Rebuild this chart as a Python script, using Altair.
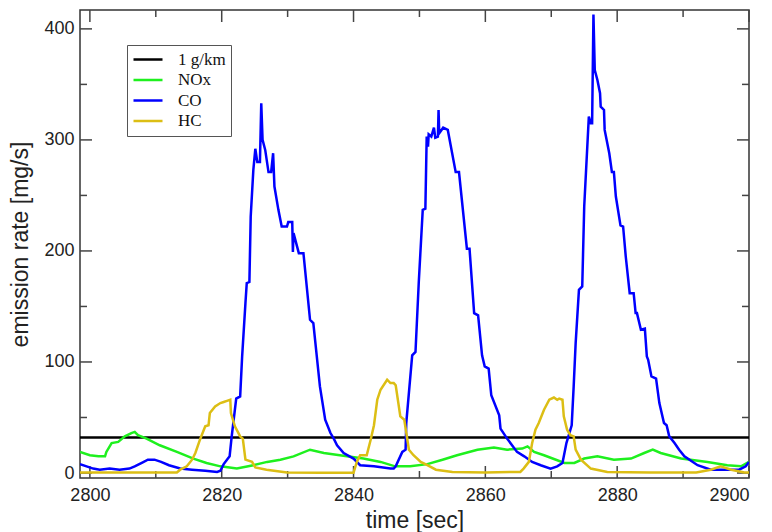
import altair as alt
import pandas as pd

# ---- measured emission rates [mg/s] ----
co_time = [2798.5, 2799.5, 2800.5, 2801.5, 2803, 2804.5, 2806, 2806.8, 2807.8, 2808.8,
           2809.8, 2810.8, 2812, 2813.7, 2815.5, 2817.5, 2819.3, 2819.8, 2820.3, 2820.8,
           2821.2, 2821.5, 2822.2, 2822.8, 2823.1, 2823.6, 2823.8, 2824.2, 2824.4, 2824.8,
           2825.1, 2825.4, 2825.8, 2826.0, 2826.2, 2826.6, 2827.1, 2827.5, 2827.8, 2828.0,
           2828.6, 2829.1, 2829.9, 2830.1, 2830.7, 2830.8, 2830.9, 2831.7, 2832.4, 2833.4,
           2833.9, 2834.9, 2835.7, 2836.5, 2837.0, 2837.5, 2838.5, 2840, 2841, 2843.1,
           2845.6, 2846.1, 2846.4, 2847.4, 2847.9, 2848.0, 2848.9, 2849.4, 2849.9, 2850.5,
           2850.9, 2851.1, 2851.3, 2851.4, 2851.8, 2852.2, 2852.4, 2852.8, 2852.9, 2853.0,
           2853.6, 2854.3, 2855.5, 2856.0, 2857.2, 2857.6, 2858.3, 2858.9, 2859.5, 2859.9,
           2860.5, 2860.9, 2862.1, 2862.3, 2863.3, 2864.8, 2865.9, 2867.1, 2868.4, 2869.9,
           2870.9, 2871.7, 2872.3, 2873.1, 2873.4, 2873.7, 2874.2, 2874.7, 2875.0, 2875.7,
           2876.0, 2876.2, 2876.4, 2876.6, 2877.0, 2877.4, 2877.5, 2878.0, 2878.1, 2878.8,
           2879.2, 2879.5, 2879.8, 2880.5, 2880.9, 2881.3, 2881.9, 2882.5, 2882.8, 2883.0,
           2883.6, 2884.2, 2884.5, 2884.7, 2885.2, 2885.9, 2886.4, 2887.1, 2887.5, 2887.9,
           2888.7, 2889.4, 2890.2, 2892.2, 2894.2, 2896.7, 2898.5, 2899.5, 2900]
co_rate = [8, 6, 4, 3, 4, 3, 4, 6, 9, 12,
           12, 10, 7, 4, 3, 2, 1, 2, 8, 12,
           15, 32, 67, 69, 105, 153, 171, 172, 231, 273,
           292, 280, 280, 333, 300, 291, 271, 271, 288, 258,
           237, 222, 222, 226, 226, 199, 216, 198, 198, 138,
           135, 78, 48, 36, 31, 25, 18, 13, 7, 6,
           4, 4, 6, 19, 21, 45, 106, 109, 172, 237,
           238, 303, 294, 305, 303, 311, 302, 303, 327, 306,
           311, 309, 271, 271, 202, 202, 144, 142, 106, 96,
           94, 70, 52, 40, 31, 19, 15, 10, 7, 4,
           6, 9, 27, 43, 78, 117, 165, 168, 240, 321,
           315, 315, 413, 363, 354, 342, 330, 327, 309, 288,
           271, 271, 249, 223, 222, 195, 162, 162, 144, 144,
           129, 130, 105, 102, 87, 85, 63, 45, 43, 33,
           27, 21, 15, 7, 3, 3, 3, 6, 10]

nox_time = [2798.5, 2800, 2801.3, 2802.3, 2802.5, 2803.3, 2804.3, 2805.3, 2806.3, 2806.8,
            2807.3, 2808.6, 2810.6, 2813.2, 2815.7, 2817.7, 2819.8, 2822.3, 2824.8, 2826.9,
            2828.9, 2830.9, 2833.4, 2835.5, 2839.0, 2841.5, 2844.1, 2846.3, 2848.6, 2851.2,
            2853.5, 2855.7, 2858.8, 2861.3, 2863.3, 2865.6, 2866.4, 2867.4, 2868.9, 2872.0,
            2873.5, 2875.0, 2877.0, 2879.5, 2882.1, 2884.1, 2885.4, 2886.6, 2889.7, 2893.7,
            2896.7, 2898.8, 2900]
nox_rate = [19, 16, 15, 15, 19, 27, 28, 33, 36, 37,
            34, 31, 25, 19, 13, 9, 6, 4, 7, 10,
            12, 15, 21, 18, 15, 13, 10, 6, 6, 8,
            12, 16, 21, 23, 21, 22, 24, 19, 16, 9,
            9, 13, 15, 12, 13, 18, 21, 18, 13, 10,
            7, 6, 10]

hc_time = [2798.5, 2805, 2813.2, 2813.7, 2814.7, 2815.5, 2816, 2816.7, 2817.5, 2818,
           2818.2, 2819, 2819.8, 2820.3, 2820.8, 2821.3, 2821.4, 2822, 2822.8, 2823.2,
           2823.6, 2824.6, 2825.1, 2826.8, 2829.9, 2835, 2840, 2840.5, 2841, 2842,
           2842.6, 2843.1, 2843.6, 2844.1, 2845.1, 2845.6, 2846.1, 2846.4, 2847.1, 2847.7,
           2848.4, 2849.1, 2850.2, 2851.2, 2852.5, 2855, 2860, 2865.3, 2865.8, 2866.6,
           2867.1, 2867.6, 2868.1, 2868.9, 2869.7, 2870.4, 2870.9, 2871.2, 2871.7, 2871.9,
           2872.4, 2872.9, 2873.4, 2873.7, 2874.5, 2876, 2878.5, 2885, 2892, 2894.2,
           2895.7, 2897.3, 2899.3, 2900]
hc_rate = [0.5, 0.5, 0.5, 3, 6, 12, 18, 30, 42, 43,
           54, 60, 63, 64, 65, 66, 54, 42, 33, 31,
           12, 10, 5, 3, 0.5, 0.3, 0.3, 10, 16, 16,
           30, 43, 66, 75, 84, 81, 81, 79, 51, 48,
           21, 16, 10, 7, 3, 1, 0.5, 1, 4, 10,
           27, 39, 45, 57, 66, 68, 66, 67, 66, 51,
           39, 34, 33, 21, 12, 4, 1, 0.5, 0.5, 3,
           6, 3, 0.5, 0.5]

# 1 g/km reference level
limit_time = [2798.5, 2900]
limit_rate = [32, 32]

series_names = ["1 g/km", "NOx", "CO", "HC"]
series_colors = ["#000000", "#1ef01e", "#0000ff", "#dcbe14"]

x_major = [2800, 2820, 2840, 2860, 2880, 2900]
x_minor = [2810, 2830, 2850, 2870, 2890]
y_major = [0, 100, 200, 300, 400]
y_minor = [50, 150, 250, 350]

X_DOMAIN = [2798.5, 2900]
Y_DOMAIN = [-4.5, 417]
W, H = 669, 468

frames = []
for name, t, v in [("1 g/km", limit_time, limit_rate), ("NOx", nox_time, nox_rate),
                   ("CO", co_time, co_rate), ("HC", hc_time, hc_rate)]:
    frames.append(pd.DataFrame({"time": t, "rate": v, "series": name,
                                "order": range(len(t))}))
data = pd.concat(frames, ignore_index=True)

x_scale = alt.Scale(domain=X_DOMAIN, nice=False, zero=False)
y_scale = alt.Scale(domain=Y_DOMAIN, nice=False, zero=False)

lines = alt.Chart(data).mark_line(strokeWidth=2.5, clip=True).encode(
    x=alt.X("time:Q", scale=x_scale,
            axis=alt.Axis(values=x_major, format="d", title="time [sec]", ticks=False,
                          domain=False, grid=False, labelFontSize=18, labelPadding=8,
                          titleFontSize=23, titleFontWeight="normal", titlePadding=5,
                          labelColor="#222", titleColor="#222",
                          labelFont="Liberation Sans", titleFont="Liberation Sans")),
    y=alt.Y("rate:Q", scale=y_scale,
            axis=alt.Axis(values=y_major, format="d", title="emission rate [mg/s]",
                          ticks=False, domain=False, grid=False, labelFontSize=18,
                          labelPadding=6, titleFontSize=23, titleFontWeight="normal",
                          titlePadding=11, labelColor="#222", titleColor="#222",
                          labelFont="Liberation Sans", titleFont="Liberation Sans")),
    color=alt.Color("series:N",
                    scale=alt.Scale(domain=series_names, range=series_colors),
                    legend=alt.Legend(title=None, orient="none", legendX=47, legendY=35,
                                      symbolType="stroke", symbolSize=841,
                                      symbolStrokeWidth=2.5, labelFont="Liberation Serif",
                                      labelFontSize=17, labelColor="#111",
                                      strokeColor="#555", padding=5, rowPadding=1.5,
                                      clipHeight=19, labelOffset=14, fillColor="white")),
    order="order:Q",
    detail="series:N",
)

# inward tick marks on all four sides of the frame
tick_style = dict(color="#444", strokeWidth=1.5)
xmaj = pd.DataFrame({"t": x_major})
xmin = pd.DataFrame({"t": x_minor})
ymaj = pd.DataFrame({"v": y_major})
ymin = pd.DataFrame({"v": y_minor})


def x_ticks(df, length):
    base = alt.Chart(df).mark_rule(**tick_style)
    enc_x = alt.X("t:Q", scale=x_scale)
    bottom = base.encode(x=enc_x, y=alt.value(H), y2=alt.value(H - length))
    top = base.encode(x=enc_x, y=alt.value(0), y2=alt.value(length))
    return bottom + top


def y_ticks(df, length):
    base = alt.Chart(df).mark_rule(**tick_style)
    enc_y = alt.Y("v:Q", scale=y_scale)
    left = base.encode(y=enc_y, x=alt.value(0), x2=alt.value(length))
    right = base.encode(y=enc_y, x=alt.value(W), x2=alt.value(W - length))
    return left + right


chart = alt.layer(
    x_ticks(xmaj, 12), x_ticks(xmin, 7), y_ticks(ymaj, 12), y_ticks(ymin, 7), lines
).properties(
    width=W, height=H,
    padding={"left": 80, "top": 10, "right": 23, "bottom": 54},
    autosize=alt.AutoSizeParams(type="none"),
    background="white",
).configure_view(
    stroke="#333", strokeWidth=1.5
)

chart.save("out.html", embed_options={"renderer": "svg", "actions": False})
